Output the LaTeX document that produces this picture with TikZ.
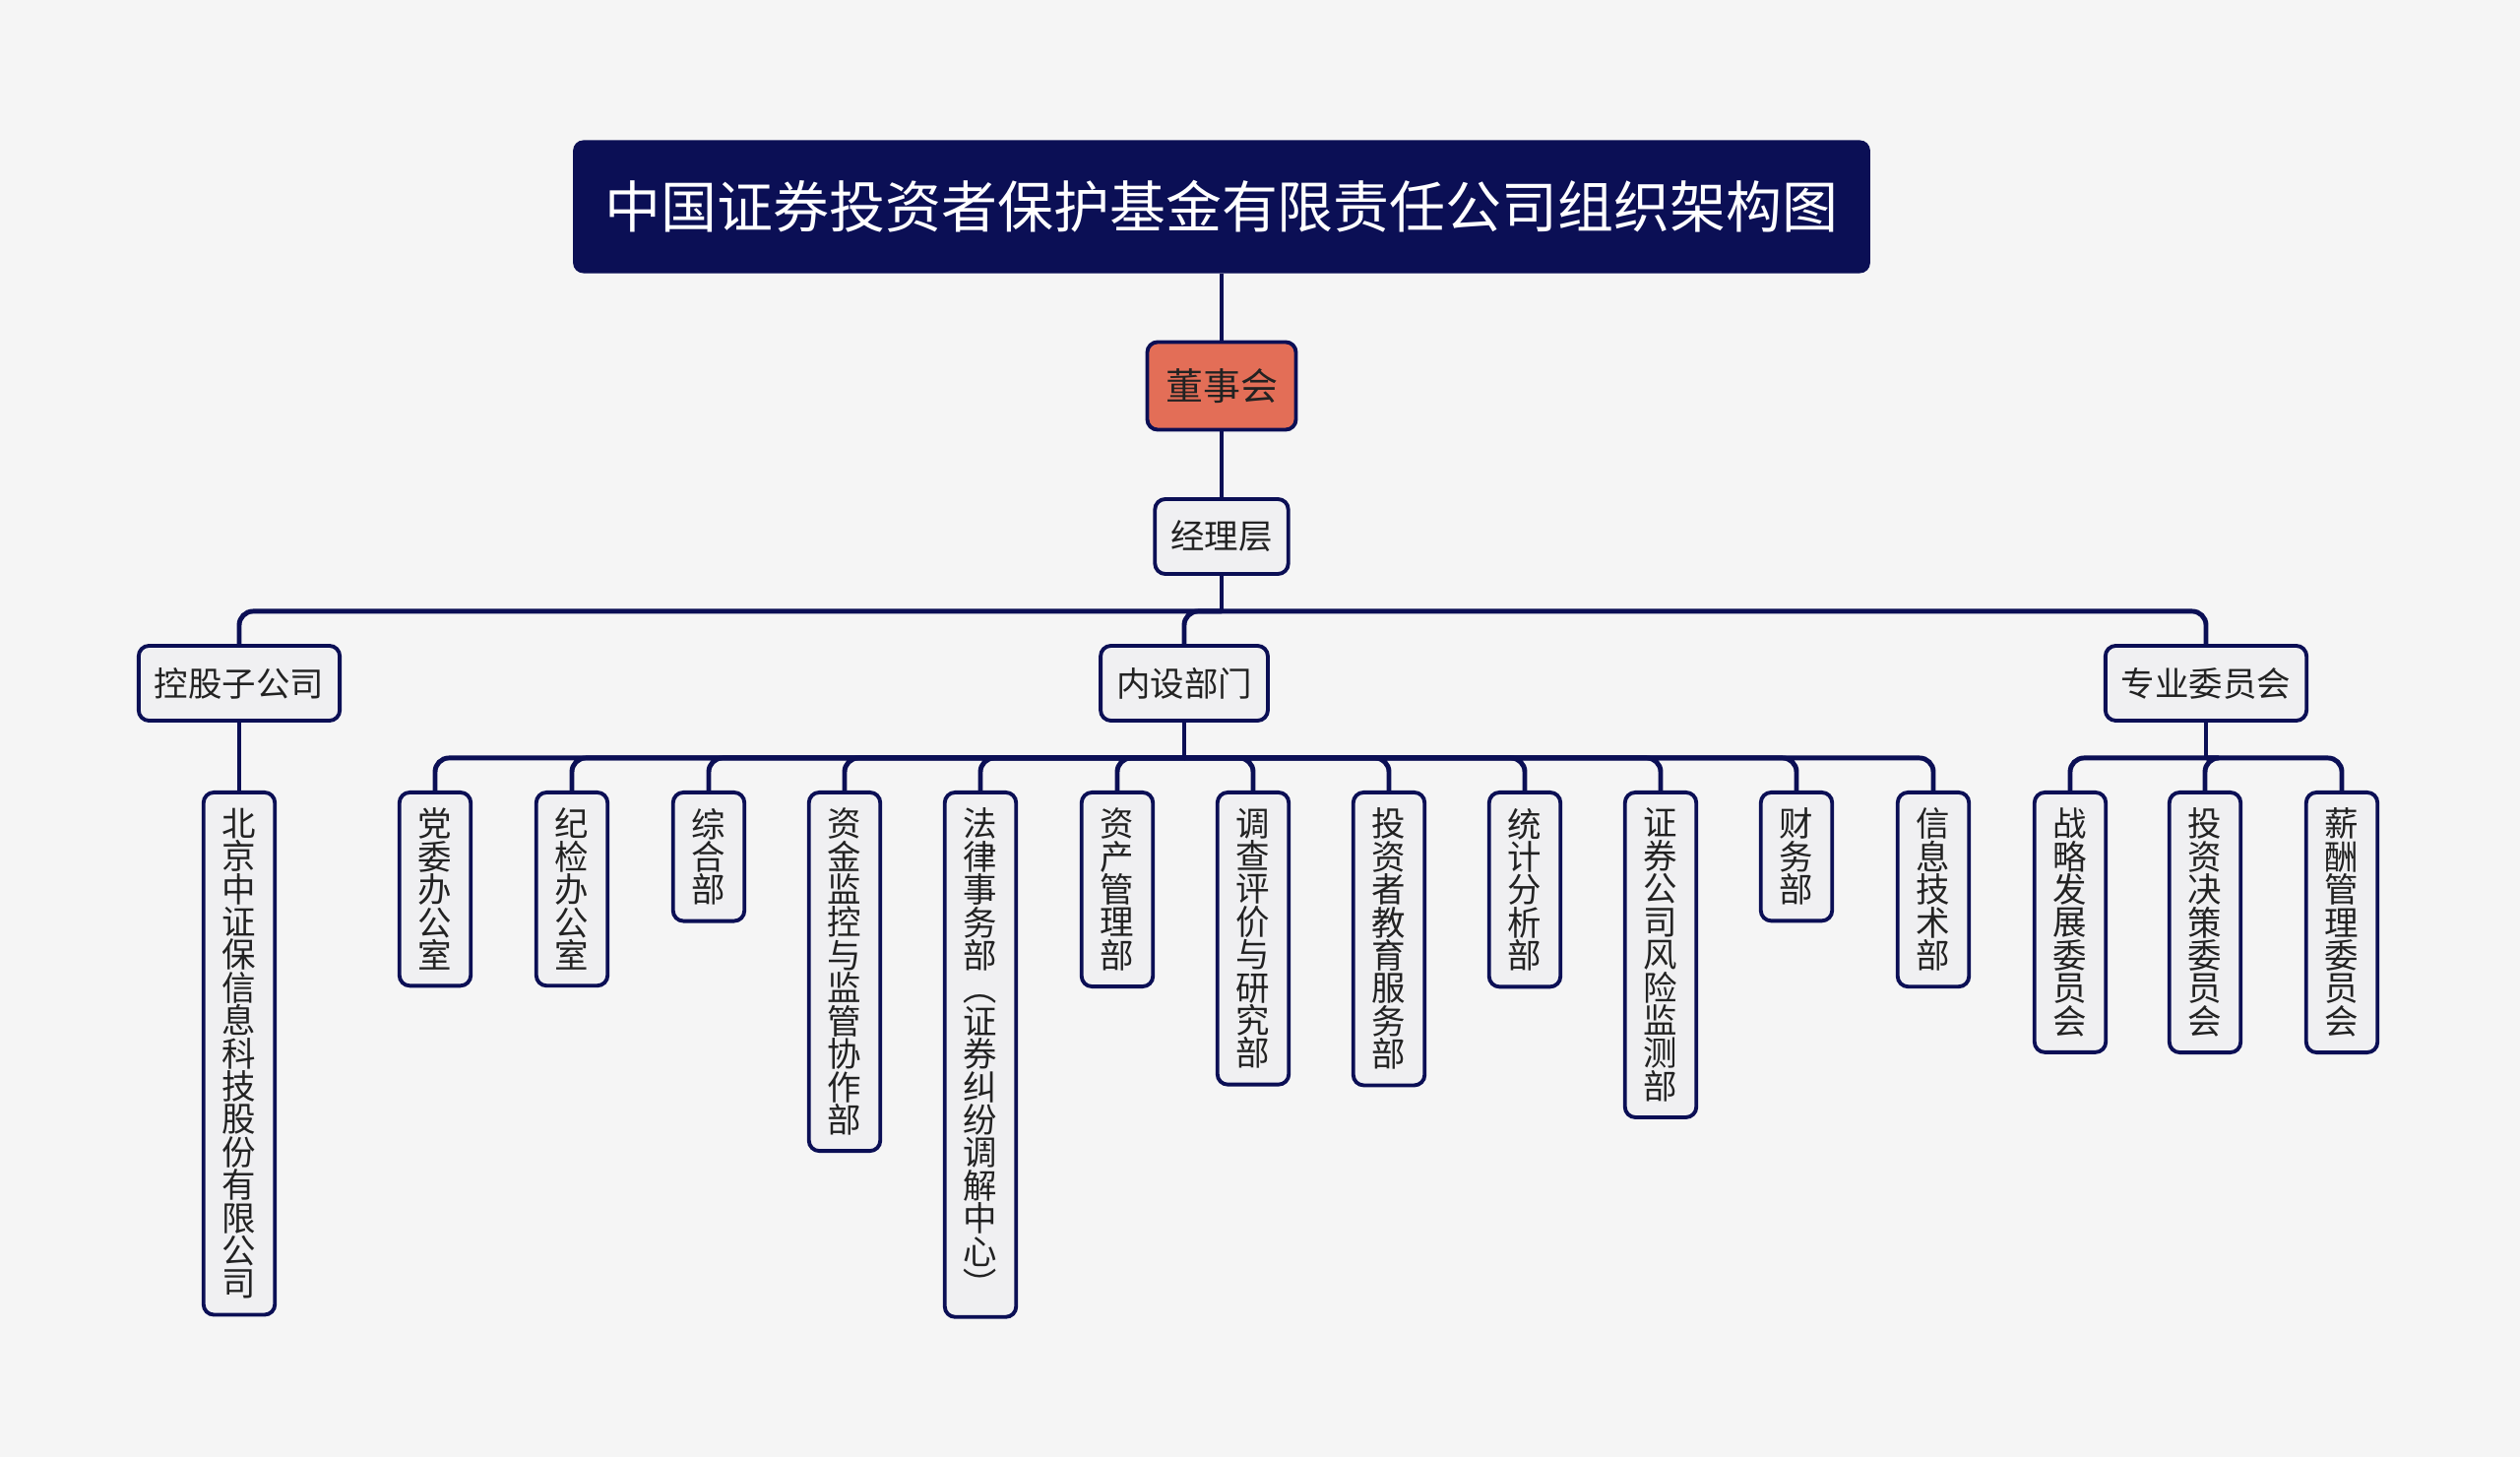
\documentclass[tikz,border=0pt]{standalone}
\usepackage{fontspec}
\newfontfamily\cjk{Noto Sans CJK SC}
\usepackage{tikz}
\usetikzlibrary{positioning, calc}

\definecolor{navy}{HTML}{0B0F55}
\definecolor{board}{HTML}{E36E57}
\definecolor{boxfill}{HTML}{F0F0F2}
\definecolor{bg}{HTML}{F5F5F5}
\definecolor{ink}{HTML}{222222}

\tikzset{
    box/.style={draw=navy, line width=1.1pt, fill=boxfill, rounded corners=3pt,
        text=ink, font=\cjk\fontsize{9.8pt}{9.5pt}\selectfont},
    midbox/.style={box, inner xsep=0.16cm, minimum height=0.76cm},
    leafbox/.style={box, anchor=north, align=center, inner xsep=0.19cm, inner ysep=0.16cm},
    link/.style={draw=navy, line width=1.4pt},
    elbow/.style={link, rounded corners=4pt}
}

\begin{document}
\begin{tikzpicture}[x=0.01cm, y=-0.01cm]
    % fond et cadre
    \fill[bg] (0,0) rectangle (2560,1480);
    \useasboundingbox (0,0) rectangle (2560,1480);

    % titre
    \node[fill=navy, rounded corners=3pt, text=white, font=\cjk\fontsize{16.2pt}{16.2pt}\selectfont,
        minimum width=13.17cm, minimum height=1.35cm] (title) at (1241,210)
        {中国证券投资者保护基金有限责任公司组织架构图};

    % direction
    \node[box, fill=board, font=\cjk\fontsize{10.8pt}{10.8pt}\selectfont,
        minimum width=1.51cm, minimum height=0.89cm] (board) at (1241,392) {董事会};
    \node[midbox, minimum width=1.3cm] (mgmt) at (1241,545) {经理层};

    % trois branches
    \node[midbox] (sub) at (243,694) {控股子公司};
    \node[midbox] (dept) at (1203,694) {内设部门};
    \node[midbox] (comm) at (2241,694) {专业委员会};

    % filiale
    \node[leafbox] (bj) at (243,803) {北\\京\\中\\证\\保\\信\\息\\科\\技\\股\\份\\有\\限\\公\\司};

    % départements
    \node[leafbox] (d1) at (442,803) {党\\委\\办\\公\\室};
    \node[leafbox] (d2) at (581,803) {纪\\检\\办\\公\\室};
    \node[leafbox] (d3) at (720,803) {综\\合\\部};
    \node[leafbox] (d4) at (858,803) {资\\金\\监\\控\\与\\监\\管\\协\\作\\部};
    \node[leafbox] (d5) at (996,803) {法\\律\\事\\务\\部\\\rotatebox[origin=c]{-90}{（}\\证\\券\\纠\\纷\\调\\解\\中\\心\\\rotatebox[origin=c]{-90}{）}};
    \node[leafbox] (d6) at (1135,803) {资\\产\\管\\理\\部};
    \node[leafbox] (d7) at (1273,803) {调\\查\\评\\价\\与\\研\\究\\部};
    \node[leafbox] (d8) at (1411,803) {投\\资\\者\\教\\育\\服\\务\\部};
    \node[leafbox] (d9) at (1549,803) {统\\计\\分\\析\\部};
    \node[leafbox] (d10) at (1687,803) {证\\券\\公\\司\\风\\险\\监\\测\\部};
    \node[leafbox] (d11) at (1825,803) {财\\务\\部};
    \node[leafbox] (d12) at (1964,803) {信\\息\\技\\术\\部};

    % comités
    \node[leafbox] (c1) at (2103,803) {战\\略\\发\\展\\委\\员\\会};
    \node[leafbox] (c2) at (2240,803) {投\\资\\决\\策\\委\\员\\会};
    \node[leafbox] (c3) at (2379,803) {薪\\酬\\管\\理\\委\\员\\会};

    % liaisons
    \draw[link] (title) -- (board);
    \draw[link] (board) -- (mgmt);
    \draw[link] (mgmt.south) -- ++(0,36) coordinate (bus1);
    \foreach \c in {sub, dept, comm}
        \draw[elbow] (bus1) -| (\c.north);

    \draw[link] (sub) -- (bj);

    \draw[link] (dept.south) -- ++(0,36) coordinate (bus2);
    \foreach \c in {d1, d2, d3, d4, d5, d6, d7, d8, d9, d10, d11, d12}
        \draw[elbow] (bus2) -| (\c.north);

    \draw[link] (comm.south) -- ++(0,36) coordinate (bus3);
    \foreach \c in {c1, c2, c3}
        \draw[elbow] (bus3) -| (\c.north);
\end{tikzpicture}
\end{document}
